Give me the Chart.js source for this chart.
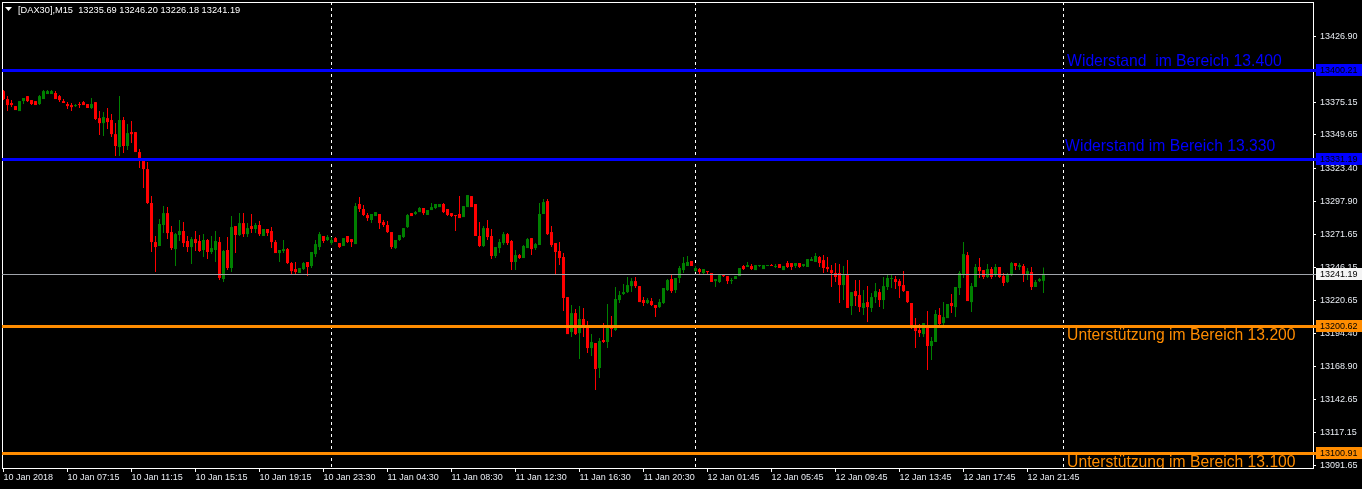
<!DOCTYPE html>
<html><head><meta charset="utf-8">
<script src="https://cdn.jsdelivr.net/npm/chart.js@4.4.1/dist/chart.umd.min.js"></script>
<style>html,body{margin:0;padding:0;background:#000;overflow:hidden}canvas{display:block}</style>
</head><body>
<canvas id="c" width="1362" height="489"></canvas>
<script>
const symbolTitle = '[DAX30],M15';

const opens = [13383.9,13377.7,13374.6,13372.2,13368.3,13376.1,13380.0,13376.9,13376.1,13373.8,
13377.7,13381.6,13381.6,13382.4,13380.0,13376.1,13373.8,13373.0,13372.2,13373.8,
13375.3,13373.8,13370.7,13375.3,13362.8,13358.9,13362.8,13361.3,13350.3,13340.2,
13361.3,13341.0,13351.9,13351.9,13336.3,13330.0,13323.0,13296.5,13266.0,13262.9,
13279.3,13288.6,13273.8,13260.5,13271.5,13274.6,13266.8,13262.1,13268.3,13266.8,
13259.8,13267.6,13258.2,13259.8,13266.0,13237.1,13259.8,13245.7,13278.5,13271.5,
13280.8,13272.2,13278.5,13276.2,13279.3,13270.7,13276.2,13274.6,13266.0,13257.4,
13259.0,13260.5,13249.6,13244.9,13241.8,13244.9,13250.4,13247.3,13256.6,13262.1,
13270.7,13267.6,13265.2,13269.1,13265.2,13262.9,13270.7,13268.3,13264.4,13295.7,
13291.8,13287.1,13283.2,13286.3,13287.9,13281.6,13279.3,13273.8,13261.3,13267.6,
13269.9,13277.7,13288.6,13287.9,13289.4,13292.6,13287.1,13291.0,13292.6,13293.3,
13295.7,13291.8,13288.6,13287.1,13287.9,13285.5,13293.3,13301.9,13295.7,13270.7,
13262.9,13276.9,13270.7,13255.1,13261.3,13265.2,13272.2,13266.8,13250.4,13255.8,
13253.5,13261.3,13269.1,13261.3,13263.7,13287.9,13298.0,13273.8,13265.2,13259.0,
13254.3,13223.0,13195.7,13210.5,13194.9,13205.9,13201.2,13183.2,13187.1,13167.6,
13189.5,13187.9,13199.6,13197.3,13220.7,13225.4,13226.9,13231.6,13235.5,13231.6,
13220.7,13218.4,13219.9,13216.8,13215.2,13218.4,13228.5,13237.1,13228.5,13237.9,
13244.1,13247.3,13251.2,13243.3,13244.9,13241.8,13243.3,13241.8,13235.5,13234.8,
13240.2,13239.4,13235.5,13237.1,13239.4,13247.3,13246.5,13247.3,13244.1,13247.3,
13244.9,13247.3,13248.0,13246.5,13248.8,13244.1,13249.6,13249.6,13247.3,13249.6,
13247.3,13246.5,13251.2,13250.4,13254.3,13251.9,13246.5,13244.1,13241.8,13241.8,
13232.4,13240.2,13216.0,13227.7,13224.6,13214.5,13219.1,13214.5,13223.0,13226.9,
13220.7,13230.9,13237.1,13237.1,13235.5,13232.4,13227.7,13218.4,13200.4,13197.3,
13194.1,13199.6,13184.8,13187.9,13209.0,13202.7,13206.6,13218.4,13215.2,13230.1,
13240.2,13255.8,13219.1,13230.9,13246.5,13244.1,13238.7,13244.9,13240.2,13246.5,
13239.4,13234.8,13240.2,13249.6,13246.5,13247.3,13241.0,13242.6,13230.9,13235.5,
13235.69];

const highs = [13384.7,13380.0,13376.9,13372.2,13376.1,13378.5,13380.0,13376.9,13376.1,13380.8,
13384.7,13384.7,13384.7,13383.9,13380.8,13377.7,13375.3,13374.6,13373.8,13375.3,
13376.1,13373.8,13378.5,13375.3,13368.3,13367.5,13370.7,13366.0,13358.9,13380.0,
13363.6,13358.2,13360.5,13351.9,13338.6,13330.0,13328.5,13301.9,13270.7,13284.0,
13294.1,13293.3,13278.5,13273.0,13283.2,13281.6,13270.7,13269.9,13274.6,13271.5,
13272.2,13268.3,13270.7,13274.6,13269.9,13259.8,13269.9,13286.3,13278.5,13288.6,
13288.6,13280.8,13287.9,13280.8,13282.4,13276.2,13276.2,13277.7,13267.6,13259.8,
13267.6,13261.3,13250.4,13250.4,13245.7,13250.4,13250.4,13258.2,13267.6,13273.8,
13270.7,13271.5,13269.9,13269.9,13265.2,13269.1,13270.7,13268.3,13296.5,13301.1,
13294.9,13288.6,13287.9,13289.4,13287.9,13283.2,13282.4,13273.8,13267.6,13271.5,
13276.9,13287.9,13288.6,13290.2,13293.3,13292.6,13291.0,13296.5,13295.7,13295.7,
13296.5,13291.8,13288.6,13287.1,13301.9,13294.1,13302.7,13301.9,13295.7,13281.6,
13278.5,13283.2,13276.2,13262.1,13268.3,13273.8,13273.0,13267.6,13259.8,13256.6,
13263.7,13269.1,13269.1,13265.2,13296.5,13299.6,13299.6,13278.5,13265.2,13266.0,
13257.4,13223.0,13216.8,13213.7,13216.0,13214.5,13204.3,13194.1,13187.1,13191.0,
13202.7,13217.6,13208.2,13230.9,13227.7,13233.2,13238.7,13237.9,13238.7,13231.6,
13223.0,13222.3,13222.3,13216.8,13221.5,13230.1,13237.1,13240.2,13237.9,13247.3,
13254.3,13255.1,13251.2,13247.3,13245.7,13244.9,13243.3,13241.8,13237.1,13240.2,
13241.0,13239.4,13237.9,13239.4,13245.7,13248.0,13250.4,13248.8,13248.0,13248.0,
13248.0,13248.0,13248.8,13248.8,13248.8,13247.3,13251.2,13249.6,13249.6,13249.6,
13248.8,13252.7,13254.3,13257.4,13255.1,13255.8,13254.3,13248.0,13249.6,13248.8,
13247.3,13251.9,13226.9,13236.3,13236.3,13228.5,13231.6,13226.2,13234.0,13229.3,
13238.7,13240.2,13240.2,13239.4,13237.1,13243.3,13227.7,13218.4,13206.6,13202.0,
13202.7,13212.1,13191.8,13212.9,13214.5,13219.1,13217.6,13225.4,13230.9,13243.3,
13266.0,13258.2,13234.0,13248.8,13253.5,13244.1,13248.8,13246.5,13248.8,13246.5,
13241.8,13241.8,13250.4,13249.6,13249.6,13248.8,13245.7,13246.5,13236.3,13237.9,
13246.20];

const lows = [13376.9,13368.3,13371.4,13369.1,13368.3,13373.8,13375.3,13373.0,13373.0,13373.0,
13377.7,13381.6,13381.6,13377.7,13375.3,13374.6,13369.9,13368.3,13371.4,13370.7,
13373.0,13370.7,13369.9,13361.3,13349.6,13348.8,13354.3,13348.0,13333.2,13333.2,
13335.5,13337.9,13343.3,13336.3,13323.8,13308.2,13295.7,13258.2,13242.6,13262.9,
13273.0,13268.3,13259.8,13247.3,13266.8,13262.1,13258.2,13248.8,13259.0,13258.2,
13254.3,13252.7,13256.6,13250.4,13236.3,13234.8,13244.1,13242.6,13257.4,13270.7,
13269.9,13269.9,13273.0,13273.0,13270.7,13270.7,13270.7,13261.3,13257.4,13250.4,
13257.4,13248.8,13240.2,13240.2,13241.8,13244.1,13239.4,13245.7,13254.3,13259.8,
13265.2,13266.8,13263.7,13266.0,13261.3,13262.9,13265.2,13262.1,13264.4,13289.4,
13286.3,13282.4,13280.8,13286.3,13276.2,13277.7,13273.0,13260.5,13260.5,13266.8,
13269.1,13276.9,13286.3,13287.1,13289.4,13287.1,13287.1,13291.0,13291.8,13293.3,
13288.6,13286.3,13285.5,13274.6,13284.7,13285.5,13293.3,13293.3,13270.7,13262.1,
13262.1,13267.6,13252.7,13253.5,13257.4,13263.7,13263.7,13244.1,13244.1,13252.7,
13253.5,13261.3,13255.8,13259.8,13263.7,13287.9,13271.5,13262.1,13240.2,13248.0,
13212.1,13194.1,13191.8,13193.4,13174.6,13191.8,13179.3,13176.9,13150.4,13159.8,
13187.1,13183.2,13191.8,13196.5,13218.4,13224.6,13226.2,13226.9,13230.1,13219.1,
13216.0,13217.6,13216.0,13207.4,13214.5,13217.6,13227.7,13226.2,13226.2,13234.0,
13241.8,13247.3,13247.3,13242.6,13241.0,13241.0,13241.0,13234.8,13230.9,13234.0,
13238.7,13233.2,13233.2,13237.1,13239.4,13244.1,13246.5,13244.1,13244.1,13246.5,
13244.9,13247.3,13247.3,13245.7,13245.7,13244.1,13245.7,13244.1,13245.7,13245.7,
13246.5,13246.5,13251.2,13250.4,13246.5,13241.8,13242.6,13230.9,13234.8,13218.4,
13220.7,13214.5,13209.0,13216.0,13211.3,13209.0,13203.5,13211.3,13218.4,13215.2,
13213.7,13228.5,13230.1,13229.3,13222.3,13226.9,13218.4,13198.1,13183.2,13191.8,
13191.8,13166.0,13173.8,13187.9,13199.6,13198.8,13206.6,13210.5,13207.4,13224.6,
13237.9,13219.9,13211.3,13230.9,13237.9,13237.1,13237.9,13237.1,13238.7,13237.9,
13231.6,13234.0,13239.4,13244.1,13244.1,13234.8,13236.3,13228.5,13230.9,13234.8,
13226.18];

const closes = [13377.7,13373.0,13373.0,13369.1,13376.1,13378.5,13376.1,13373.8,13373.0,13380.0,
13383.9,13383.9,13383.9,13377.7,13376.9,13374.6,13372.2,13371.4,13373.0,13373.0,
13373.0,13370.7,13373.8,13362.1,13358.9,13363.6,13359.7,13350.3,13341.0,13361.3,
13341.0,13351.1,13350.3,13336.3,13330.0,13323.0,13296.5,13266.0,13262.1,13280.1,
13288.6,13273.0,13261.3,13272.2,13274.6,13265.2,13262.1,13268.3,13265.2,13259.0,
13267.6,13258.2,13261.3,13266.8,13237.9,13259.0,13245.7,13277.7,13271.5,13280.8,
13272.2,13276.9,13276.2,13279.3,13272.2,13276.2,13273.0,13266.0,13257.4,13259.8,
13260.5,13249.6,13243.3,13242.6,13245.7,13249.6,13246.5,13258.2,13264.4,13272.2,
13266.8,13269.9,13267.6,13266.0,13262.1,13269.1,13266.0,13266.0,13294.1,13291.8,
13287.1,13284.7,13287.9,13289.4,13280.8,13279.3,13273.8,13262.1,13267.6,13271.5,
13276.9,13287.1,13286.3,13289.4,13292.6,13288.6,13291.0,13293.3,13295.7,13295.7,
13289.4,13287.1,13286.3,13286.3,13284.7,13294.1,13302.7,13293.3,13270.7,13262.9,
13276.9,13269.9,13255.1,13262.1,13266.0,13272.2,13265.2,13250.4,13255.8,13253.5,
13262.9,13268.3,13260.5,13264.4,13287.9,13297.2,13272.2,13263.7,13258.2,13253.5,
13222.3,13194.1,13210.5,13194.1,13205.9,13198.8,13183.2,13187.9,13166.8,13188.7,
13187.9,13199.6,13198.1,13221.5,13224.6,13226.9,13232.4,13235.5,13231.6,13219.1,
13218.4,13220.7,13216.8,13214.5,13219.1,13230.1,13236.3,13227.7,13237.9,13245.7,
13249.6,13250.4,13247.3,13245.7,13242.6,13244.9,13242.6,13234.8,13237.1,13240.2,
13239.4,13235.5,13236.3,13239.4,13245.7,13244.9,13248.0,13244.9,13248.0,13247.5,
13248.0,13248.0,13247.3,13247.3,13245.7,13247.3,13246.5,13246.5,13249.6,13246.5,
13248.8,13252.7,13252.7,13255.1,13249.6,13245.7,13244.9,13241.8,13238.7,13232.4,
13240.2,13214.5,13226.9,13223.8,13215.2,13218.4,13215.2,13223.0,13227.7,13220.7,
13231.6,13237.9,13237.9,13234.8,13231.6,13227.7,13219.1,13198.8,13196.5,13194.9,
13202.7,13184.8,13188.7,13209.8,13202.0,13207.4,13217.6,13216.0,13230.9,13241.8,
13256.6,13219.9,13231.6,13246.5,13243.3,13238.7,13244.9,13238.7,13246.5,13238.7,
13234.0,13240.2,13249.6,13247.3,13248.0,13241.0,13243.3,13230.9,13234.8,13237.1,
13241.19];

const tickLabels = ['10 Jan 2018','10 Jan 07:15','10 Jan 11:15','10 Jan 15:15','10 Jan 19:15','10 Jan 23:30',
'11 Jan 04:30','11 Jan 08:30','11 Jan 12:30','11 Jan 16:30','11 Jan 20:30',
'12 Jan 01:45','12 Jan 05:45','12 Jan 09:45','12 Jan 13:45','12 Jan 17:45','12 Jan 21:45'];
const barsPerTick = 16;

const yTickValues = [13426.90,13400.65,13375.15,13349.65,13323.40,13297.90,13271.65,13246.15,13220.65,13194.40,13168.90,13142.65,13117.15,13091.65];

const levelPrices = [13400.21, 13331.19, 13200.62, 13100.91];
const levelColors = ['#0000FF', '#0000FF', '#FF8C00', '#FF8C00'];
const levelTexts = ['Widerstand  im Bereich 13.400', 'Widerstand im Bereich 13.330', 'Unterstützung im Bereich 13.200', 'Unterstützung im Bereich 13.100'];
const levelTextPrices = [13403.4, 13337.1, 13189.5, 13090.3];
const levelTextBars = [265.9, 265.4, 265.9, 265.9];
const bidPrice = 13241.19;
const separatorBars = [82, 173, 265];

const BULL = '#008000', BEAR = '#FF0000';
const candleColor = (i) => closes[i] >= opens[i] ? BULL : BEAR;

const bodyData = opens.map((o, i) => ({x: i, y: [o, closes[i]]}));
const wickData = opens.map((o, i) => ({x: i, y: [lows[i], highs[i]]}));

const AXIS_FONT = {family: 'Liberation Sans', size: 9};
const LABEL_COLOR = '#e8ecf2';

const overlay = {
  id: 'overlay',
  beforeDatasetsDraw(chart) {
    const {ctx, chartArea: a, scales: {x}} = chart;
    ctx.save();
    ctx.strokeStyle = '#ffffff';
    ctx.lineWidth = 1;
    ctx.setLineDash([3, 3]);
    separatorBars.forEach(b => {
      const px = Math.floor(x.getPixelForValue(b)) + 0.5;
      ctx.beginPath(); ctx.moveTo(px, a.top); ctx.lineTo(px, a.bottom); ctx.stroke();
    });
    ctx.restore();
  },
  afterDraw(chart) {
    const {ctx, chartArea: a, scales: {x, y}} = chart;
    ctx.save();
    ctx.fillStyle = '#ffffff';
    ctx.fillRect(2, 2, a.right - 2 + 1, 1);
    ctx.fillRect(2, 2, 1, a.bottom - 2);
    const by = Math.round(y.getPixelForValue(bidPrice)) + 0.5;
    ctx.strokeStyle = '#a0a4aa'; ctx.lineWidth = 1;
    ctx.beginPath(); ctx.moveTo(a.left, by); ctx.lineTo(a.right + 3, by); ctx.stroke();
    levelPrices.forEach((p, i) => {
      const ly = y.getPixelForValue(p);
      ctx.fillStyle = levelColors[i];
      ctx.fillRect(a.left, Math.round(ly) - 1, a.right + 3 - a.left, 3);
    });
    ctx.save();
    ctx.beginPath(); ctx.rect(a.left, a.top, a.right - a.left, a.bottom - a.top); ctx.clip();
    ctx.font = '15.7px "Liberation Sans", Arial, sans-serif';
    ctx.textAlign = 'left'; ctx.textBaseline = 'alphabetic';
    levelTexts.forEach((t, i) => {
      ctx.fillStyle = levelColors[i];
      ctx.fillText(t, x.getPixelForValue(levelTextBars[i]), y.getPixelForValue(levelTextPrices[i]));
    });
    ctx.restore();
    ctx.font = '9px "Liberation Sans", Arial, sans-serif';
    ctx.textBaseline = 'middle'; ctx.textAlign = 'left';
    const box = (p, bg) => {
      const cy = Math.round(y.getPixelForValue(p));
      ctx.fillStyle = bg;
      ctx.fillRect(a.right + 3, cy - 6, 1362 - a.right - 3, 12);
      ctx.fillStyle = '#000000';
      ctx.fillText(p.toFixed(2), a.right + 7, cy + 0.5);
    };
    levelPrices.forEach((p, i) => box(p, levelColors[i]));
    box(bidPrice, '#f4f4f4');
    const n = opens.length - 1;
    ctx.fillStyle = '#ffffff';
    ctx.beginPath(); ctx.moveTo(5, 7); ctx.lineTo(12, 7); ctx.lineTo(8.5, 11); ctx.closePath(); ctx.fill();
    ctx.font = '9.25px "Liberation Sans", Arial, sans-serif';
    ctx.textBaseline = 'middle';
    ctx.fillText(symbolTitle + '  ' + [opens[n], highs[n], lows[n], closes[n]].map(v => v.toFixed(2)).join(' '), 18, 10.5);
    ctx.restore();
  }
};

new Chart(document.getElementById('c'), {
  type: 'bar',
  data: {
    datasets: [
      {data: bodyData, barThickness: 3, minBarLength: 1, backgroundColor: (c) => candleColor(c.dataIndex), borderWidth: 0, inflateAmount: 0, grouped: false},
      {data: wickData, barThickness: 1, backgroundColor: (c) => candleColor(c.dataIndex), borderWidth: 0, inflateAmount: 0, grouped: false}
    ]
  },
  options: {
    responsive: false,
    devicePixelRatio: 1,
    animation: false,
    events: [],
    layout: {padding: {left: 2, top: 2, right: 0, bottom: 0}},
    plugins: {legend: {display: false}, tooltip: {enabled: false}},
    scales: {
      x: {
        type: 'linear', offset: false, min: -0.375, max: 327.375,
        afterBuildTicks: (s) => { s.ticks = tickLabels.map((_, i) => ({value: i * barsPerTick})); },
        afterFit: (s) => { s.height = 21; s.paddingLeft = 0; s.paddingRight = 0; },
        grid: {display: true, offset: false, drawOnChartArea: false, drawTicks: true, tickLength: 4, color: '#ffffff'},
        border: {display: true, color: '#ffffff'},
        ticks: {autoSkip: false, maxRotation: 0, minRotation: 0, align: 'start', padding: 0, color: LABEL_COLOR, font: AXIS_FONT,
          callback: (v, i) => tickLabels[i]}
      },
      y: {
        type: 'linear', position: 'right', beginAtZero: false, min: 13089.5, max: 13453.5,
        afterBuildTicks: (s) => { s.ticks = yTickValues.map(v => ({value: v})); },
        afterFit: (s) => { s.width = 49; s.paddingTop = 0; s.paddingBottom = 0; },
        grid: {display: true, drawOnChartArea: false, drawTicks: true, tickLength: 3, color: '#ffffff'},
        border: {display: true, color: '#ffffff'},
        ticks: {padding: 4, color: LABEL_COLOR, font: AXIS_FONT, callback: (v) => Number(v).toFixed(2)}
      }
    }
  },
  plugins: [overlay]
});
</script>
</body></html>
